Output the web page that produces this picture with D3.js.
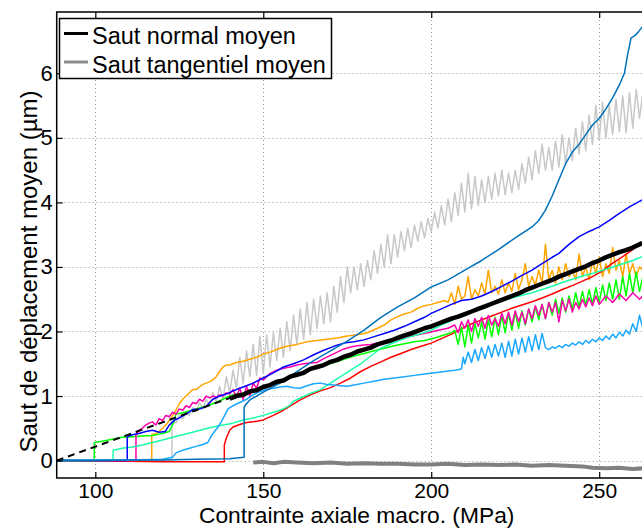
<!DOCTYPE html>
<html><head><meta charset="utf-8">
<script src="https://cdn.jsdelivr.net/npm/d3@7"></script>
<style>body{margin:0;background:#fff}svg{display:block}text{font-family:"Liberation Sans",Arial,sans-serif;fill:#000}</style>
</head><body><svg id="c" width="642" height="528"></svg>
<script>
const xTicks=[100,150,200,250];
const yTicks=[0,1,2,3,4,5,6];
const legendLabels=["Saut normal moyen","Saut tangentiel moyen"];
const xLabel="Contrainte axiale macro. (MPa)";
const yLabel="Saut de déplacement moyen (µm)";

const lightGray=[[88.5,0],[122.8,0],[122.8,0.62],[124,0.58],[125,0.7],[126,0.64],[127,0.76],[128,0.7],[129,0.82],[130,0.76],[131,0.9],[132,0.8],[133,0.95],[134,0.85],[135,1.05],[136,0.9],[137,1.15],[138,0.95],[139,1.3],[140,1.05],[141,1.4],[142,1.12],[143,1.6],[144,1.2],[145,1.7],[146,1.3],[147,1.8],[148,1.32],[149,1.92],[150,1.35],[151,1.95],[152,1.45],[153,1.98],[154,1.55],[155,2.05],[156,1.6],[157,2.15],[158,1.7],[159,2.25],[160,1.8],[161,2.35],[162,1.88],[163,2.45],[164,1.95],[165,2.5],[166,2.05],[167,2.55],[168,2.12],[169,2.6],[170,2.15],[171,2.7],[172,2.3],[173,2.85],[174,2.45],[175,3.0],[176,2.6],[177,3.0],[178,2.65],[179,3.05],[180,2.7],[181,3.1],[182,2.8],[183,3.25],[184,2.9],[185,3.35],[186,3.0],[187,3.5],[188,3.05],[189,3.5],[190,3.15],[191,3.55],[192,3.25],[193,3.6],[194,3.3],[195,3.65],[196,3.4],[197,3.7],[198,3.45],[199,3.75],[200,3.55],[201,3.85],[202,3.6],[203,3.95],[204,3.65],[205,4.05],[206,3.7],[207,4.15],[208,3.8],[209,4.3],[210,3.85],[211,4.45],[212,3.9],[213,4.4],[214,3.95],[215,4.35],[216,4.0],[217,4.4],[218,4.05],[219,4.45],[220,4.1],[221,4.5],[222,4.12],[223,4.45],[224,4.15],[225,4.5],[226,4.2],[227,4.6],[228,4.3],[229,4.7],[230,4.35],[231,4.8],[232,4.45],[233,4.9],[234,4.5],[235,4.85],[236,4.5],[237,4.95],[238,4.55],[239,5.05],[240,4.6],[241,5.0],[242,4.65],[243,5.15],[244,4.75],[245,5.25],[246,4.8],[247,5.35],[248,4.9],[249,5.5],[250,4.97],[251,5.55],[252,5.0],[253,5.5],[254,5.05],[255,5.6],[256,5.1],[257,5.65],[258,5.08],[259,5.7],[260,5.15],[261,5.75],[262,5.3],[263,5.7]];

const orange=[[88.5,0],[116.8,0],[116.8,0.4],[118,0.42],[119,0.45],[120,0.5],[121,0.55],[122,0.62],[123,0.7],[124,0.78],[125,0.88],[126,0.95],[127,1.0],[128,1.05],[129,1.1],[130,1.1],[131,1.14],[132,1.18],[133,1.2],[134,1.22],[135,1.25],[136,1.3],[137,1.38],[138,1.45],[139,1.48],[140,1.48],[142,1.52],[144,1.54],[146,1.57],[148,1.6],[150,1.65],[152,1.68],[154,1.72],[156,1.76],[158,1.78],[160,1.8],[163,1.84],[166,1.86],[169,1.88],[172,1.9],[175,1.93],[178,1.95],[181,1.98],[184,2.05],[186,2.1],[188,2.18],[190,2.23],[192,2.27],[194,2.3],[196,2.36],[198,2.4],[200,2.42],[202,2.45],[204,2.48],[205,2.45],[206,2.6],[207,2.42],[208,2.7],[209,2.5],[210,2.55],[211,2.85],[212,2.5],[213,2.65],[214,2.55],[215,2.75],[216,2.58],[217,2.95],[218,2.6],[219,2.7],[220,2.58],[221,2.8],[222,2.6],[223,2.75],[224,2.62],[225,2.9],[226,2.65],[227,2.8],[228,3.05],[229,2.7],[230,2.85],[231,2.72],[232,2.95],[233,2.75],[234,3.35],[235,2.8],[236,2.95],[237,2.75],[238,3.0],[239,2.8],[240,3.05],[241,2.85],[242,2.95],[243,2.8],[244,3.2],[245,2.85],[246,3.0],[247,2.8],[248,3.1],[249,2.9],[250,3.15],[251,2.85],[252,3.05],[253,2.9],[254,3.3],[255,2.95],[256,3.1],[257,2.85],[258,3.2],[259,2.9],[260,3.05],[261,2.85],[262,3.0],[263,2.95]];

const red=[[88.5,0],[100,-0.01],[110,-0.01],[120,-0.02],[130,-0.02],[138.4,-0.02],[138.4,0.24],[139,0.35],[140,0.47],[141,0.52],[143,0.56],[145,0.59],[147,0.6],[150,0.63],[153,0.7],[156,0.78],[159,0.88],[161,0.94],[164,1.02],[167,1.08],[170,1.13],[173,1.2],[176,1.28],[179,1.38],[182,1.46],[185,1.53],[188,1.6],[191,1.66],[194,1.72],[197,1.77],[200,1.82],[203,1.89],[206,1.96],[209,2.04],[212,2.12],[215,2.18],[218,2.24],[221,2.3],[224,2.36],[227,2.41],[230,2.46],[233,2.52],[236,2.58],[239,2.65],[242,2.71],[245,2.78],[248,2.85],[251,2.94],[254,3.06],[257,3.16],[260,3.27],[262.8,3.39]];

const green=[[88.5,0],[99.7,0],[99.7,0.28],[102,0.3],[105,0.33],[108,0.36],[111,0.37],[114,0.38],[117,0.39],[120,0.42],[122,0.45],[123.4,0.6],[124,0.72],[126,0.74],[128,0.77],[130,0.8],[132,0.83],[134,0.86],[136,0.9],[138,0.95],[140,1.0],[142,1.03],[144,1.05],[146,1.08],[148,1.11],[150,1.14],[153,1.2],[156,1.26],[159,1.32],[162,1.37],[165,1.42],[168,1.47],[171,1.52],[174,1.57],[177,1.62],[180,1.66],[183,1.7],[186,1.74],[189,1.78],[192,1.81],[195,1.84],[198,1.86],[201,1.9],[204,1.95],[206,1.98],[207,2.02],[208,1.8],[209,2.07],[210,1.76],[211,2.1],[212,1.82],[213,2.12],[214,1.9],[215,2.15],[216,1.88],[217,2.18],[218,1.92],[219,2.22],[220,1.95],[221,2.25],[222,1.98],[223,2.28],[224,2.02],[225,2.3],[226,2.05],[227,2.32],[228,2.1],[229,2.35],[230,2.15],[231,2.38],[232,2.18],[233,2.42],[234,2.2],[235,2.45],[236,2.25],[237,2.5],[238,2.28],[239,2.52],[240,2.3],[241,2.55],[242,2.35],[243,2.6],[244,2.38],[245,2.62],[246,2.4],[247,2.65],[248,2.42],[249,2.68],[250,2.45],[251,2.72],[252,2.48],[253,2.75],[254,2.5],[255,2.8],[256,2.5],[257,2.85],[258,2.55],[259,2.9],[260,2.6],[261,2.92],[262,2.62],[263,2.85]];

const magenta=[[88.5,0],[112.1,0],[112.1,0.4],[113,0.47],[114,0.5],[115,0.55],[116,0.58],[117,0.6],[118,0.55],[119,0.65],[120,0.62],[121,0.7],[122,0.68],[123,0.75],[124,0.72],[125,0.8],[126,0.78],[127,0.85],[128,0.82],[129,0.9],[130,0.88],[131,0.95],[132,0.92],[133,1.0],[134,0.97],[135,1.0],[136,0.98],[137,1.02],[138,1.0],[139,1.05],[140,1.03],[141,1.1],[142,0.98],[143,1.12],[144,0.95],[145,1.15],[146,1.0],[147,1.2],[148,1.12],[149,1.28],[150,1.25],[152,1.35],[154,1.4],[156,1.43],[158,1.45],[160,1.48],[162,1.5],[164,1.51],[166,1.52],[168,1.58],[170,1.63],[172,1.68],[174,1.73],[176,1.76],[178,1.78],[180,1.79],[182,1.8],[184,1.82],[186,1.84],[188,1.86],[190,1.88],[193,1.92],[196,1.95],[199,1.98],[202,2.02],[205,2.05],[207,2.1],[208,1.98],[209,2.15],[210,2.05],[211,2.18],[212,2.0],[213,2.2],[214,2.08],[215,2.22],[216,2.05],[217,2.25],[218,2.1],[219,2.2],[220,2.08],[221,2.28],[222,2.12],[223,2.3],[224,2.1],[225,2.32],[226,2.15],[227,2.3],[228,2.12],[229,2.35],[230,2.2],[231,2.4],[232,2.25],[233,2.42],[234,2.2],[235,2.45],[236,2.3],[237,2.45],[238,2.15],[239,2.48],[240,2.32],[241,2.5],[242,2.3],[243,2.45],[244,2.35],[245,2.5],[246,2.38],[247,2.52],[248,2.4],[249,2.55],[250,2.42],[252,2.55],[254,2.45],[256,2.58],[258,2.48],[260,2.6],[262,2.5],[263,2.55]];

const aquamarine=[[88.5,0],[105.3,0],[105.3,0.16],[108,0.19],[111,0.21],[114,0.24],[117,0.28],[120,0.32],[123,0.36],[126,0.4],[129,0.44],[132,0.48],[135,0.52],[138,0.55],[141,0.58],[144,0.63],[147,0.66],[150,0.7],[153,0.75],[156,0.8],[158,0.86],[159,0.92],[161,0.97],[164,1.04],[167,1.1],[170,1.2],[173,1.3],[176,1.4],[179,1.5],[182,1.62],[185,1.74],[188,1.81],[191,1.87],[194,1.92],[197,1.97],[200,2.02],[203,2.1],[206,2.17],[209,2.25],[212,2.32],[215,2.38],[218,2.43],[221,2.47],[224,2.52],[227,2.56],[230,2.6],[233,2.65],[236,2.7],[239,2.76],[242,2.81],[245,2.86],[248,2.9],[251,2.95],[254,3.0],[257,3.05],[260,3.1],[262.8,3.16]];

const blue=[[88.5,0],[109.5,0],[109.5,0.37],[111,0.4],[113,0.42],[115,0.45],[117,0.47],[119,0.44],[120.8,0.45],[122,0.55],[123.7,0.63],[125,0.66],[127,0.72],[129,0.79],[131,0.8],[133,0.84],[135,0.95],[137,1.0],[139,1.03],[141,1.08],[143,1.12],[145,1.16],[147,1.2],[150,1.28],[153,1.36],[156,1.45],[159,1.5],[162,1.56],[165,1.64],[168,1.71],[171,1.77],[174,1.82],[177,1.84],[180,1.87],[183,1.92],[186,1.97],[189,2.02],[192,2.08],[195,2.15],[198,2.22],[200,2.28],[203,2.35],[206,2.42],[209,2.48],[212,2.5],[215,2.55],[218,2.62],[221,2.7],[224,2.78],[227,2.87],[230,2.95],[233,3.05],[236,3.15],[238,3.21],[241,3.35],[244,3.47],[247,3.55],[250,3.62],[253,3.72],[256,3.83],[259,3.93],[262.8,4.04]];

const skyBlue=[[88.5,0],[100,0.01],[110,0.01],[120,0.02],[123,0.05],[124,0.12],[126,0.16],[128,0.19],[130,0.22],[132,0.25],[133.5,0.28],[134.5,0.38],[135.5,0.45],[136.5,0.52],[137.5,0.6],[138.5,0.7],[139.5,0.8],[141,0.85],[143,0.9],[145,0.95],[147,1.02],[149,1.07],[151,1.1],[153,1.12],[155,1.14],[157,1.15],[159,1.13],[161,1.12],[163,1.16],[165,1.19],[167,1.2],[169,1.18],[171,1.17],[173,1.16],[175,1.15],[177,1.17],[180,1.2],[183,1.23],[186,1.26],[189,1.28],[192,1.3],[195,1.32],[198,1.34],[201,1.36],[204,1.38],[207,1.4],[209,1.42],[209.5,1.6],[210,1.5],[211,1.68],[212,1.52],[213,1.72],[214,1.55],[215,1.75],[216,1.58],[217,1.78],[218,1.6],[219,1.8],[220,1.62],[221,1.82],[222,1.6],[223,1.85],[224,1.62],[225,1.88],[226,1.65],[227,1.9],[228,1.68],[229,1.92],[230,1.7],[231,1.95],[232,1.72],[233,1.97],[234,1.75],[235,1.72],[236,1.76],[237,1.74],[238,1.78],[239,1.75],[240,1.8],[241,1.77],[242,1.82],[243,1.79],[244,1.84],[245,1.8],[246,1.86],[247,1.82],[248,1.88],[249,1.84],[250,1.9],[251,1.86],[252,1.93],[253,1.88],[254,1.96],[255,1.9],[256,1.99],[257,1.93],[258,2.02],[259,1.96],[260,2.12],[261,2.0],[262,2.25],[263,2.05]];

const steelBlue=[[88.5,0],[100,0.0],[110,0.01],[120,0.01],[130,0.02],[140,0.03],[144.3,0.05],[144.3,0.83],[145,0.88],[146,0.94],[148,1.0],[150,1.06],[155,1.2],[160,1.38],[165,1.55],[170,1.7],[175,1.85],[180,2.02],[185,2.22],[190,2.38],[195,2.52],[200,2.69],[205,2.8],[210,2.95],[215,3.1],[220,3.27],[225,3.45],[230,3.62],[232,3.72],[234,3.88],[236,4.1],[238,4.35],[240,4.6],[242,4.78],[244,4.9],[246,5.05],[248,5.2],[250,5.3],[252,5.45],[254,5.62],[256,5.82],[257.5,6.0],[258.5,6.3],[259.5,6.55],[260.5,6.58],[261.5,6.63],[262.8,6.72]];

const normalMean=[[140,0.96],[142,1.0],[144,1.02],[146,1.07],[148,1.09],[150,1.14],[152,1.17],[154,1.22],[156,1.24],[158,1.3],[160,1.33],[162,1.36],[164,1.42],[166,1.45],[168,1.48],[170,1.53],[172,1.56],[174,1.61],[176,1.64],[178,1.69],[180,1.72],[182,1.75],[184,1.8],[186,1.83],[188,1.86],[190,1.9],[192,1.94],[194,1.97],[196,2.01],[198,2.05],[200,2.08],[202,2.12],[204,2.16],[206,2.2],[208,2.23],[210,2.27],[212,2.31],[214,2.35],[216,2.39],[218,2.43],[220,2.47],[222,2.51],[224,2.55],[226,2.59],[228,2.64],[230,2.68],[232,2.72],[234,2.76],[236,2.8],[238,2.85],[240,2.89],[242,2.93],[244,2.97],[246,3.01],[248,3.06],[250,3.1],[252,3.15],[254,3.19],[256,3.23],[258,3.26],[260,3.3],[262.8,3.37]];
const normalFit=[[88.5,0],[140,0.97]];
const tangentialMean=[[147,-0.03],[150,-0.02],[153,-0.04],[156,-0.02],[160,-0.03],[165,-0.04],[170,-0.03],[175,-0.05],[180,-0.04],[185,-0.05],[190,-0.05],[195,-0.06],[200,-0.06],[205,-0.05],[210,-0.07],[215,-0.06],[220,-0.07],[225,-0.06],[230,-0.08],[235,-0.07],[240,-0.08],[245,-0.09],[248,-0.11],[252,-0.12],[256,-0.11],[260,-0.13],[263,-0.12]];

const series=[
 {data:lightGray,color:"#c8c8c8",w:1.5},
 {data:orange,color:"#ffa500",w:1.5},
 {data:red,color:"#ff0000",w:1.5},
 {data:green,color:"#00ff00",w:1.5},
 {data:magenta,color:"#ff00aa",w:1.5},
 {data:aquamarine,color:"#1affa8",w:1.5},
 {data:blue,color:"#0000ff",w:1.5},
 {data:skyBlue,color:"#1aa8ff",w:1.5},
 {data:steelBlue,color:"#0072bd",w:1.5},
 {data:normalMean,color:"#000",w:4.5},
 {data:normalFit,color:"#000",w:2,dash:"7,5"},
 {data:tangentialMean,color:"#808080",w:4}
];

const svg=d3.select("#c");
const L=56.7,R=660,T=12,B=478;
const x=d3.scaleLinear().domain([88.5,268.1]).range([L,R]);
const y=d3.scaleLinear().domain([-0.27,6.95]).range([B,T]);

svg.append("rect").attr("width",642).attr("height",528).attr("fill","#fff");
svg.append("defs").append("clipPath").attr("id","clip").append("rect").attr("x",L).attr("y",T).attr("width",R-L).attr("height",B-T);

const grid=svg.append("g").attr("stroke","#999").attr("stroke-width",1).attr("stroke-dasharray","1,3");
grid.selectAll("line.v").data(xTicks).join("line").attr("class","v").attr("x1",d=>Math.round(x(d))+0.5).attr("x2",d=>Math.round(x(d))+0.5).attr("y1",T).attr("y2",B);
grid.selectAll("line.h").data(yTicks).join("line").attr("class","h").attr("y1",d=>Math.round(y(d))+0.5).attr("y2",d=>Math.round(y(d))+0.5).attr("x1",L).attr("x2",R);

const line=d3.line().x(d=>x(d[0])).y(d=>y(d[1]));
const pg=svg.append("g").attr("clip-path","url(#clip)");
series.forEach(s=>{
  pg.append("path").attr("d",line(s.data)).attr("fill","none").attr("stroke",s.color).attr("stroke-width",s.w).attr("stroke-linejoin","round").attr("stroke-dasharray",s.dash||null);
});

// axes
const ax=d3.axisBottom(x).tickValues(xTicks).tickSize(-6).tickSizeOuter(0).tickPadding(5);
const gb=svg.append("g").attr("transform",`translate(0,${B})`).call(ax);
gb.select(".domain").remove();
gb.selectAll("text").attr("font-size","21px");
const at=d3.axisTop(x).tickValues(xTicks).tickSize(-6).tickSizeOuter(0).tickFormat("");
const gt=svg.append("g").attr("transform",`translate(0,${T})`).call(at);
gt.select(".domain").remove();
const ay=d3.axisLeft(y).tickValues(yTicks).tickSize(-6).tickSizeOuter(0).tickPadding(4);
const gl=svg.append("g").attr("transform",`translate(${L},0)`).call(ay);
gl.select(".domain").remove();
gl.selectAll("text").attr("font-size","22px");
svg.selectAll(".tick line").attr("stroke","#000").attr("stroke-width",1.2);

svg.append("rect").attr("x",L).attr("y",T).attr("width",R-L).attr("height",B-T).attr("fill","none").attr("stroke","#000").attr("stroke-width",1.5);

// titles
svg.append("text").attr("x",356.7).attr("y",523.1).attr("text-anchor","middle").attr("font-size","22.8px").text(xLabel);
svg.append("text").attr("transform","translate(37,271.5) rotate(-90)").attr("text-anchor","middle").attr("font-size","24px").text(yLabel);

// legend
const lg=svg.append("g");
lg.append("rect").attr("x",59.5).attr("y",18.5).attr("width",272).attr("height",60).attr("fill","#fff").attr("stroke","#000").attr("stroke-width",1.5);
const legendColors=["#000","#8c8c8c"];
legendLabels.forEach((t,i)=>{
  const yy=33.5+i*28.5;
  lg.append("line").attr("x1",64).attr("x2",88).attr("y1",yy).attr("y2",yy).attr("stroke",legendColors[i]).attr("stroke-width",3);
  lg.append("text").attr("x",92).attr("y",yy+10.5).attr("font-size","23.5px").text(t);
});
</script></body></html>
